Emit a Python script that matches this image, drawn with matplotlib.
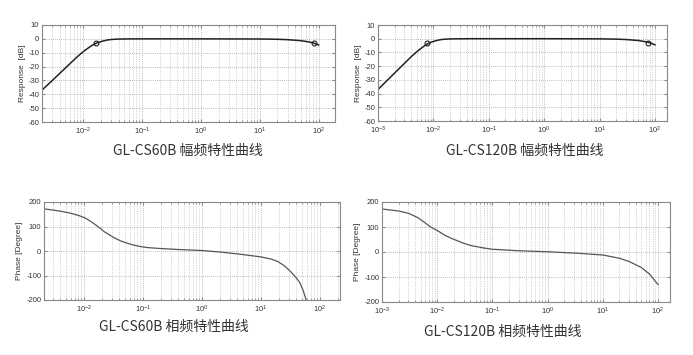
import matplotlib
matplotlib.use("Agg")
import matplotlib.pyplot as plt
from matplotlib.ticker import LogLocator, FixedLocator, NullFormatter

plt.rcParams['axes.unicode_minus'] = False
plt.rcParams['font.family'] = ['Liberation Sans', 'DejaVu Sans']

# ---- data ----
mag60_f = [0.002, 0.003, 0.005, 0.008, 0.01, 0.012, 0.0145, 0.0167, 0.018, 0.022, 0.026,
           0.03, 0.04, 0.06, 0.1, 1, 10, 20, 30, 50, 70, 83, 100]
mag60_db = [-37.0, -30.0, -21.0, -12.8, -9.3, -6.8, -4.4, -3.2, -2.6, -1.5, -0.8,
            -0.45, -0.15, -0.05, 0, 0, -0.1, -0.3, -0.6, -1.3, -2.3, -3.1, -4.4]
mag60_mk_f = [0.0167, 83]
mag60_mk_db = [-3.2, -3.1]

mag120_f = [0.001, 0.002, 0.003, 0.004, 0.005, 0.006, 0.007, 0.0083, 0.009, 0.011, 0.013,
            0.015, 0.02, 0.03, 0.05, 0.1, 1, 10, 20, 30, 50, 70, 80, 100]
mag120_db = [-37.0, -25.0, -18.0, -13.0, -9.5, -7.0, -5.0, -3.2, -2.6, -1.5, -0.8,
             -0.45, -0.15, -0.05, 0, 0, 0, -0.1, -0.3, -0.6, -1.3, -2.3, -2.9, -4.4]
mag120_mk_f = [0.0078, 76]
mag120_mk_db = [-3.2, -3.0]

ph60_f = [0.0021, 0.003, 0.0041, 0.0055, 0.0069, 0.0088, 0.0108, 0.013, 0.0159, 0.019,
          0.022, 0.027, 0.0325, 0.042, 0.055, 0.07, 0.091, 0.12, 0.174, 0.4, 1, 2, 4.1,
          10, 15, 19.4, 25, 32, 40, 46, 52, 58, 62]
ph60_deg = [172, 167, 162, 156, 150, 142, 133, 121, 106, 92,
            79, 66, 54, 41, 31.5, 24, 18, 14, 11, 6, 2, -4, -12,
            -24, -33, -43, -60, -84, -110, -130, -160, -196, -215]

ph120_f = [0.001, 0.002, 0.003, 0.0045, 0.0061, 0.0075, 0.01, 0.014, 0.0184, 0.03,
           0.0424, 0.07, 0.1, 0.3, 1, 3.5, 10, 20, 30, 50, 70, 100]
ph120_deg = [172, 164, 155, 137, 116, 101, 86, 66, 54, 35,
             25, 16, 11, 5, 1, -5, -12, -25, -38, -62, -88, -130]

titles = ["GL-CS60B 幅频特性曲线", "GL-CS120B 幅频特性曲线",
          "GL-CS60B 相频特性曲线", "GL-CS120B 相频特性曲线"]

W, H = 693, 355
fig = plt.figure(figsize=(W / 100, H / 100), dpi=100)


def box(l, r, t, b):
    return [l / W, 1 - b / H, (r - l) / W, (b - t) / H]


def style(ax, yticks):
    ax.set_xscale('log')
    ax.yaxis.set_major_locator(FixedLocator(yticks))
    ax.xaxis.set_major_locator(LogLocator(base=10, numticks=20))
    ax.xaxis.set_minor_locator(LogLocator(base=10, subs=range(2, 10), numticks=50))
    ax.xaxis.set_minor_formatter(NullFormatter())
    ax.grid(True, which='major', axis='both', color='#a8a8a8', linestyle=(0, (1, 1.5)), linewidth=0.6)
    ax.grid(True, which='minor', axis='x', color='#b8b8b8', linestyle=(0, (1, 1.5)), linewidth=0.5)
    for s in ax.spines.values():
        s.set_color('#8a8a8a')
        s.set_linewidth(0.8)
    ax.tick_params(which='both', direction='in', colors='#8a8a8a', labelcolor='#333333',
                   labelsize=5.5, top=True, right=True, length=2, pad=2)
    ax.tick_params(which='minor', length=1.2)
    ax.tick_params(axis='x', which='major', pad=3)


# top-left
ax1 = fig.add_axes(box(42, 335, 25, 122))
ax1.plot(mag60_f, mag60_db, color='#222222', lw=1.1)
ax1.plot(mag60_mk_f, mag60_mk_db, 'o', mfc='none', mec='#222222', ms=3.5, mew=0.8)
ax1.set_xlim(0.002, 190)
ax1.set_ylim(-60, 10)
style(ax1, list(range(-60, 11, 10)))
ax1.set_ylabel('Response  [dB]', fontsize=6, color='#333333', labelpad=2)

# top-right
ax2 = fig.add_axes(box(378, 667, 25, 121))
ax2.plot(mag120_f, mag120_db, color='#222222', lw=1.1)
ax2.plot(mag120_mk_f, mag120_mk_db, 'o', mfc='none', mec='#222222', ms=3.5, mew=0.8)
ax2.set_xlim(0.001, 165)
ax2.set_ylim(-60, 10)
style(ax2, list(range(-60, 11, 10)))
ax2.set_ylabel('Response  [dB]', fontsize=6, color='#333333', labelpad=2)

# bottom-left
ax3 = fig.add_axes(box(44, 340, 202, 300))
ax3.plot(ph60_f, ph60_deg, color='#555555', lw=0.9)
ax3.set_xlim(0.0021, 220)
ax3.set_ylim(-200, 200)
style(ax3, [-200, -100, 0, 100, 200])
ax3.set_ylabel('Phase [Degree]', fontsize=6, color='#333333', labelpad=2)

# bottom-right
ax4 = fig.add_axes(box(382, 670, 202, 302))
ax4.plot(ph120_f, ph120_deg, color='#555555', lw=0.9)
ax4.set_xlim(0.001, 165)
ax4.set_ylim(-200, 200)
style(ax4, [-200, -100, 0, 100, 200])
ax4.set_ylabel('Phase [Degree]', fontsize=6, color='#333333', labelpad=2)

title_pos = [(188, 151), (525, 151), (174, 327), (503, 332)]
for t, (x, y) in zip(titles, title_pos):
    fig.text(x / W, 1 - y / H, t, ha='center', va='center', fontsize=10, color='#333333',
             family=['Noto Sans CJK SC', 'DejaVu Sans'])

fig.savefig('out.png', dpi=100, facecolor='white')
